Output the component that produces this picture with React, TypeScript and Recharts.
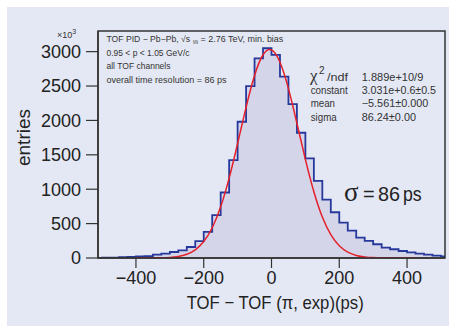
import React from 'react';
import { ComposedChart, Area, Line, XAxis, YAxis, ReferenceArea } from 'recharts';

// Histogram: left edge of each 25 ps bin (last entry closes the final bin)
const binEdges = [
  -525, -500, -475, -450, -425, -400, -375, -350, -325, -300, -275, -250, -225, -200,
  -175, -150, -125, -100, -75, -50, -25, 0, 25, 50, 75, 100, 125, 150, 175, 200, 225,
  250, 275, 300, 325, 350, 375, 400, 425, 450, 475, 500, 525,
];
// entries (x10^3) per bin
const binCounts = [
  3, 4, 5, 12, 15, 22, 27, 49, 64, 87, 112, 160, 245, 379,
  622, 952, 1423, 1981, 2500, 2903, 3049, 2952, 2636, 2238, 1821, 1447, 1122, 850, 665, 515, 398,
  297, 248, 200, 151, 127, 102, 83, 64, 49, 35, 25, 25,
];
// Gaussian fit curve read at the bin edges
const fitX = [
  -400, -375, -350, -325, -300, -275, -250, -225, -200, -175, -150, -125, -100, -75, -50, -25,
  0, 25, 50, 75, 100, 125, 150, 175, 200, 225, 250, 275, 300, 325, 350, 375, 400, 425,
];
const fitValues = [
  0.09, 0.31, 1.04, 3.2, 8.9, 23, 54.6, 119, 238.6, 440, 745, 1161, 1664, 2192, 2654, 2955,
  3025, 2846, 2463, 1959, 1433, 963, 596, 339, 177, 85, 37.6, 15.3, 5.7, 2.0, 0.6, 0.2, 0.05, 0.01,
];
const xTicks = [-400, -200, 0, 200, 400];
const yTicks = [0, 500, 1000, 1500, 2000, 2500, 3000];

const data = binEdges.map((x, i) => {
  const fi = fitX.indexOf(x);
  return { x, count: binCounts[i], fit: fi >= 0 ? fitValues[fi] : undefined };
});

const SANS = "'Liberation Sans', Arial, sans-serif";
const NARROW = "'Liberation Sans Narrow', 'Liberation Sans', Arial, sans-serif";
const TXT = '#333';

const fmt = (v: number) => String(v).replace('-', '\u2212');

export default function App() {
  return (
    <div style={{ position: 'absolute', left: 0, top: 0, width: 449, height: 326, background: '#ffffff', overflow: 'hidden' }}>
      <div style={{ position: 'absolute', left: 7, top: 7, width: 442, height: 319, background: '#e4e8f4' }} />
      <div style={{ position: 'absolute', left: 0, top: 0 }}>
        <ComposedChart width={449} height={326} data={data} margin={{ top: 31, right: 4, bottom: 0, left: 0 }}>
          <XAxis
            dataKey="x"
            type="number"
            domain={[-512, 512]}
            allowDataOverflow
            ticks={xTicks}
            tickFormatter={fmt}
            height={68}
            tickSize={10}
            tickMargin={3}
            axisLine={{ stroke: '#333', strokeWidth: 1.5 }}
            tickLine={{ stroke: '#333', strokeWidth: 1.2 }}
            tick={{ fontSize: 18, fill: '#222', fontFamily: SANS }}
          />
          <YAxis
            type="number"
            domain={[0, 3300]}
            allowDataOverflow
            ticks={yTicks}
            width={98}
            tickSize={12}
            tickMargin={5}
            axisLine={{ stroke: '#333', strokeWidth: 1.5 }}
            tickLine={{ stroke: '#333', strokeWidth: 1.2 }}
            tick={{ fontSize: 18, fill: '#222', fontFamily: SANS }}
          />
          <Area
            dataKey="count"
            type="stepAfter"
            stroke="#26399b"
            strokeWidth={1.8}
            fill="#d5d5ea"
            fillOpacity={1}
            dot={false}
            activeDot={false}
            isAnimationActive={false}
          />
          <Line
            dataKey="fit"
            type="natural"
            stroke="#e5202a"
            strokeWidth={1.5}
            dot={false}
            activeDot={false}
            isAnimationActive={false}
          />
          <ReferenceArea x1={-512} x2={512} y1={0} y2={3300} fill="none" stroke="#333" strokeWidth={1.5} ifOverflow="visible" />
        </ComposedChart>
      </div>
      <svg width={449} height={326} style={{ position: 'absolute', left: 0, top: 0, pointerEvents: 'none' }}>
        <text x={57} y={37.5} fontSize={9} fill={TXT} fontFamily={SANS}>
          ×10<tspan fontSize={7} dy={-4}>3</tspan>
        </text>
        <text x={30} y={137.5} fontSize={19} fill="#222" fontFamily={SANS} textAnchor="middle" transform="rotate(-90 30 137.5)">
          entries
        </text>
        <text x={186.7} y={308.5} fontSize={19} fill="#222" fontFamily={SANS} textLength={177} lengthAdjust="spacingAndGlyphs">
          TOF − TOF (π, exp)(ps)
        </text>

        <text x={106.5} y={41.5} fontSize={8.6} fill={TXT} fontFamily={SANS} textLength={83.5} lengthAdjust="spacingAndGlyphs">
          TOF PID − Pb−Pb, √s
        </text>
        <text x={193} y={44} fontSize={4.5} fill={TXT} fontFamily={SANS} textLength={5} lengthAdjust="spacingAndGlyphs">
          NN
        </text>
        <text x={200.5} y={41.5} fontSize={8.6} fill={TXT} fontFamily={SANS} textLength={82.8} lengthAdjust="spacingAndGlyphs">
          = 2.76 TeV, min. bias
        </text>
        <text x={106.5} y={56} fontSize={8.8} fill={TXT} fontFamily={SANS} textLength={83} lengthAdjust="spacingAndGlyphs">
          0.95 &lt; p &lt; 1.05 GeV/c
        </text>
        <text x={106.5} y={69.3} fontSize={8.8} fill={TXT} fontFamily={SANS} textLength={64} lengthAdjust="spacingAndGlyphs">
          all TOF channels
        </text>
        <text x={106.5} y={83.3} fontSize={8.8} fill={TXT} fontFamily={SANS} textLength={120} lengthAdjust="spacingAndGlyphs">
          overall time resolution = 86 ps
        </text>

        <text x={310} y={81} fontSize={17} fill={TXT} fontFamily="'Liberation Serif', serif">χ</text>
        <text x={319} y={74} fontSize={10} fill={TXT} fontFamily={SANS}>2</text>
        <text x={327} y={80.5} fontSize={10.5} fill={TXT} fontFamily={SANS} textLength={21} lengthAdjust="spacingAndGlyphs">/ndf</text>
        <text x={361.7} y={80.5} fontSize={10.5} fill={TXT} fontFamily={SANS} textLength={61.6} lengthAdjust="spacingAndGlyphs">1.889e+10/9</text>

        <text x={310.7} y={94} fontSize={10.5} fill={TXT} fontFamily={SANS} textLength={37} lengthAdjust="spacingAndGlyphs">constant</text>
        <text x={361.7} y={94} fontSize={10.5} fill={TXT} fontFamily={SANS} textLength={74.3} lengthAdjust="spacingAndGlyphs">3.031e+0.6±0.5</text>

        <text x={310.7} y={107.3} fontSize={10.5} fill={TXT} fontFamily={SANS} textLength={24.3} lengthAdjust="spacingAndGlyphs">mean</text>
        <text x={361.7} y={107.3} fontSize={10.5} fill={TXT} fontFamily={SANS} textLength={66.7} lengthAdjust="spacingAndGlyphs">−5.561±0.000</text>

        <text x={310.7} y={121} fontSize={10.5} fill={TXT} fontFamily={SANS} textLength={26} lengthAdjust="spacingAndGlyphs">sigma</text>
        <text x={361.7} y={121} fontSize={10.5} fill={TXT} fontFamily={SANS} textLength={54.3} lengthAdjust="spacingAndGlyphs">86.24±0.00</text>

        <text x={344} y={201} fontSize={27} fill="#222" fontFamily="'Liberation Serif', serif">σ</text>
        <text x={363} y={201} fontSize={20} fill="#222" fontFamily={SANS}>=</text>
        <text x={378} y={201} fontSize={20} fill="#222" fontFamily={SANS} textLength={22} lengthAdjust="spacingAndGlyphs">86</text>
        <text x={403} y={201} fontSize={20} fill="#222" fontFamily={SANS} textLength={18.7} lengthAdjust="spacingAndGlyphs">ps</text>
      </svg>
    </div>
  );
}
